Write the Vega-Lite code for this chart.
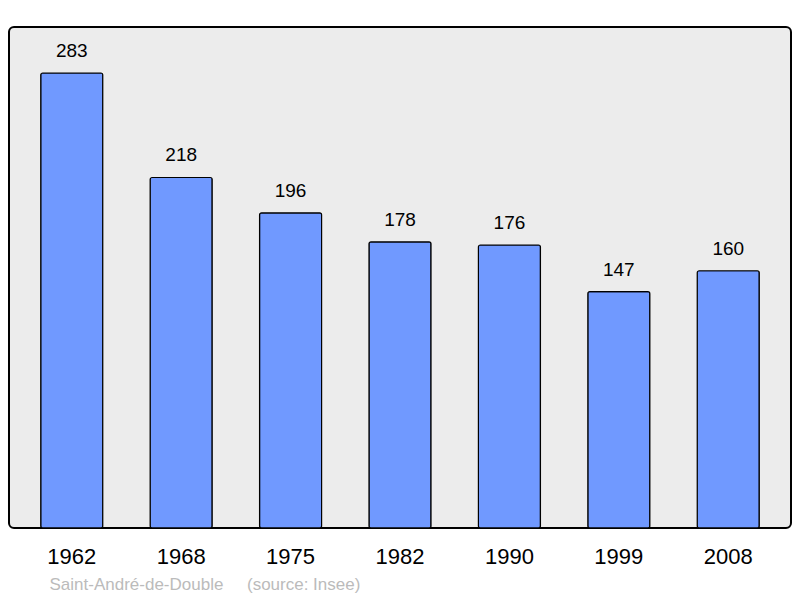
{
  "$schema": "https://vega.github.io/schema/vega-lite/v6.json",
  "width": 782,
  "height": 501,
  "autosize": {"type": "none"},
  "padding": {"left": 9, "top": 27, "right": 9, "bottom": 70},
  "background": "#ffffff",
  "config": {
    "font": "Liberation Sans",
    "view": {"fill": "#ECECEC", "stroke": "#000000", "strokeWidth": 2, "cornerRadius": 5}
  },
  "data": {
    "values": [
      {"year": "1962", "pop": 283},
      {"year": "1968", "pop": 218},
      {"year": "1975", "pop": 196},
      {"year": "1982", "pop": 178},
      {"year": "1990", "pop": 176},
      {"year": "1999", "pop": 147},
      {"year": "2008", "pop": 160}
    ]
  },
  "encoding": {
    "x": {
      "field": "year",
      "type": "ordinal",
      "sort": null,
      "scale": {"paddingInner": 0.433, "paddingOuter": 0.29},
      "axis": {
        "title": "Saint-André-de-Double\u00a0\u00a0\u00a0\u00a0 (source: Insee)",
        "titleFont": "Liberation Sans",
        "titleFontSize": 17,
        "titleFontWeight": "normal",
        "titleColor": "#BBBBBB",
        "titleAnchor": "start",
        "titleAlign": "left",
        "titleBaseline": "alphabetic",
        "titleX": 40,
        "titleY": 61,
        "labelAngle": 0,
        "labelFontSize": 22,
        "labelColor": "#000000",
        "labelBaseline": "alphabetic",
        "labelPadding": 35,
        "ticks": false,
        "tickSize": 0,
        "domain": false,
        "grid": false
      }
    },
    "y": {
      "field": "pop",
      "type": "quantitative",
      "scale": {"domain": [0, 311.6], "nice": false},
      "axis": null
    }
  },
  "layer": [
    {
      "mark": {"type": "bar", "color": "#7099FF", "stroke": "#000000", "strokeWidth": 1.2, "cornerRadius": 2}
    },
    {
      "mark": {"type": "text", "dy": -22, "fontSize": 19, "baseline": "middle", "color": "#000000"},
      "encoding": {"text": {"field": "pop", "type": "quantitative"}}
    }
  ]
}
